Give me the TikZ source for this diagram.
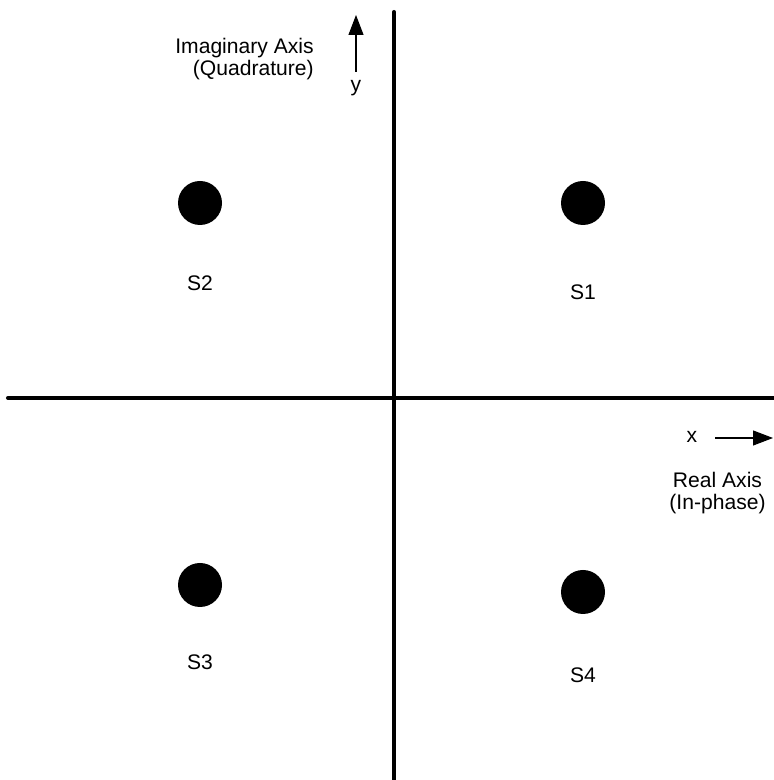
\documentclass[tikz,border=0pt]{standalone}
\usepackage{fontspec}
\setmainfont{Liberation Sans}
\usetikzlibrary{arrows.meta}

\begin{document}
\begin{tikzpicture}[x=1cm,y=1cm,
  axisline/.style={line width=2.3pt,line cap=round},
  dirarrow/.style={line width=.6pt,-{Triangle[length=4mm,width=3mm]}},
  symbol/.style={circle,fill=black,inner sep=0pt,minimum size=0.88cm},
  lbl/.style={inner sep=0pt,font=\fontsize{12}{12.5}\selectfont}]
\path[use as bounding box] (0,0) rectangle (15.46,15.60);
% axes
\coordinate (vtop) at (7.88,15.36);
\coordinate (vbot) at (7.88,-0.20);
\coordinate (hleft) at (0.16,7.64);
\coordinate (hright) at (15.66,7.64);
\draw[axisline] (vtop) -- (vbot);
\draw[axisline] (hleft) -- (hright);
% symbols
\node[symbol] (s1) at (11.66,11.54) {};
\node[lbl] (s1lbl) at (11.66,9.76) {S1};
\node[symbol] (s2) at (4.00,11.54) {};
\node[lbl] (s2lbl) at (4.00,9.94) {S2};
\node[symbol] (s3) at (4.00,3.90) {};
\node[lbl] (s3lbl) at (4.00,2.36) {S3};
\node[symbol] (s4) at (11.66,3.76) {};
\node[lbl] (s4lbl) at (11.66,2.10) {S4};
% direction arrows
\coordinate (ytail) at (7.12,14.16);
\coordinate (ytip) at (7.12,15.30);
\draw[dirarrow] (ytail) -- (ytip);
\node[lbl] (ylbl) at (7.12,13.84) {y};
\coordinate (xtail) at (14.30,6.84);
\coordinate (xtip) at (15.46,6.84);
\draw[dirarrow] (xtail) -- (xtip);
\node[lbl] (xlbl) at (13.84,6.86) {x};
\node[lbl,align=center] (realax) at (14.35,5.73) {Real Axis\\(In-phase)};
\node[lbl,align=right,anchor=east] (imagax) at (6.28,14.41) {Imaginary Axis\\(Quadrature)};
\end{tikzpicture}
\end{document}
